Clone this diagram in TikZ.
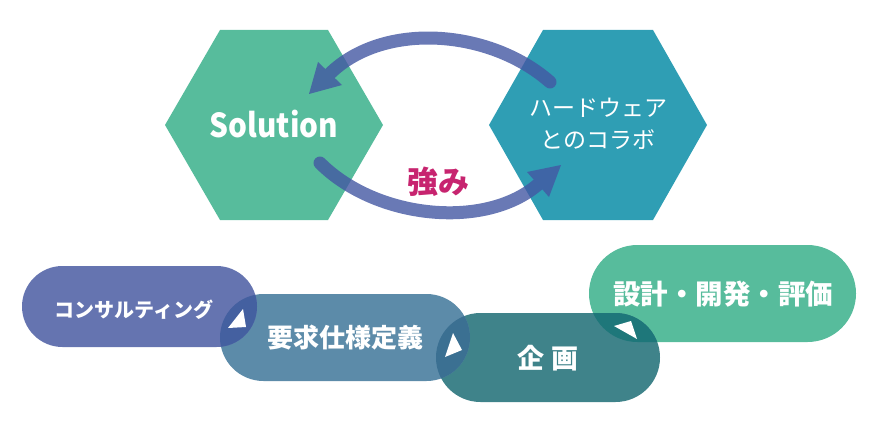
\documentclass[tikz,border=0pt]{standalone}
\usepackage{fontspec}
\setmainfont{Noto Sans CJK JP}
\definecolor{hexgreen}{HTML}{57BC9C}
\definecolor{hexteal}{HTML}{2F9EB4}
\definecolor{arrowc}{HTML}{4457A3}
\definecolor{strong}{HTML}{C7246F}
\definecolor{pillA}{HTML}{6574B0}
\definecolor{pillB}{HTML}{5C8BA9}
\definecolor{pillC}{HTML}{3F838A}
\definecolor{pillD}{HTML}{57BC9C}
\definecolor{lensAB}{HTML}{4460A0}
\definecolor{lensBC}{HTML}{3B7092}
\definecolor{lensCD}{HTML}{1E777A}
\begin{document}
\begin{tikzpicture}[x=1pt,y=-1pt,
  lbl/.style={text=white, inner sep=0pt},
  shaft/.style={draw=arrowc, line width=13pt, line cap=round},
  tipfill/.style={fill=arrowc},
  whitetri/.style={fill=white}]
\useasboundingbox (0,0) rectangle (880,425);
% hexagons
\fill[hexgreen] (165,125) -- (220,30) -- (328,30) -- (383,125) -- (328,220) -- (220,220) -- cycle;
\fill[hexteal] (489,125) -- (543,30) -- (653,30) -- (707,125) -- (653,220) -- (543,220) -- cycle;
\node[lbl, font=\fontsize{33}{40}\selectfont\bfseries] (sol) at (274,124) {\scalebox{0.9}[1]{Solution}};
\node[lbl, align=center, font=\fontsize{23}{32}\selectfont] (hw) at (598,124) {ハードウェア\\とのコラボ};
% arrows
\coordinate (a1s) at (550,82);
\coordinate (a1b) at (330,73.5);
\coordinate (a1t) at (309,94);
\coordinate (a1c) at (318,62);
\coordinate (a1d) at (342,85);
\coordinate (a2s) at (320,163);
\coordinate (a2b) at (538,184.5);
\coordinate (a2t) at (561,165);
\coordinate (a2c) at (527,172);
\coordinate (a2d) at (549,197);
\begin{scope}[transparency group, opacity=0.8]
\draw[shaft] (a1s) .. controls (490,29.2) and (384,21) .. (a1b);
\fill[tipfill] (a1t) -- (a1c) -- (a1d) -- cycle;
\end{scope}
\begin{scope}[transparency group, opacity=0.8]
\draw[shaft] (a2s) .. controls (376,219) and (484.8,230) .. (a2b);
\fill[tipfill] (a2t) -- (a2c) -- (a2d) -- cycle;
\end{scope}
\node[inner sep=0pt, text=strong, font=\fontsize{31}{36}\selectfont\bfseries] (str) at (438,182) {強み};
% pills
\fill[pillD] (589,245) [rounded corners=48.5pt] rectangle (856,342);
\fill[pillC] (436,313) [rounded corners=44.5pt] rectangle (660,402);
\fill[pillB] (220,294) [rounded corners=43.5pt] rectangle (470,381);
\fill[pillA] (22,266) [rounded corners=40.5pt] rectangle (257,347);
\begin{scope}
\clip (220,294) [rounded corners=43.5pt] rectangle (470,381);
\fill[lensAB] (22,266) [rounded corners=40.5pt] rectangle (257,347);
\end{scope}
\begin{scope}
\clip (436,313) [rounded corners=44.5pt] rectangle (660,402);
\fill[lensBC] (220,294) [rounded corners=43.5pt] rectangle (470,381);
\end{scope}
\begin{scope}
\clip (436,313) [rounded corners=44.5pt] rectangle (660,402);
\fill[lensCD] (589,245) [rounded corners=48.5pt] rectangle (856,342);
\end{scope}
\fill[whitetri] (228,328) -- (246,327) -- (243,309) -- cycle;
\fill[whitetri] (445,357) -- (462,350) -- (453,333) -- cycle;
\fill[whitetri] (614,326) -- (637,339) -- (631,321) -- cycle;
\node[lbl, font=\fontsize{20}{24}\selectfont\bfseries] (p1) at (134,310) {コンサルティング};
\node[lbl, font=\fontsize{26}{30}\selectfont\bfseries] (p2) at (345,338) {要求仕様定義};
\node[lbl, font=\fontsize{27}{30}\selectfont\bfseries] (p3) at (548,358) {企\hspace{8pt}画};
\node[lbl, font=\fontsize{27.5}{32}\selectfont\bfseries] (p4) at (723,294) {設計・開発・評価};
\end{tikzpicture}
\end{document}
